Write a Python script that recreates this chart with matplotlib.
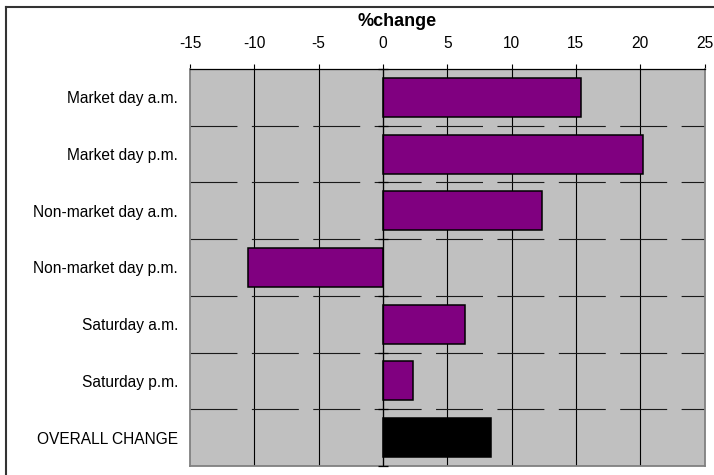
import matplotlib
matplotlib.use("Agg")
import matplotlib.pyplot as plt
from matplotlib.lines import Line2D

plt.rcParams['font.family'] = ['Liberation Sans', 'DejaVu Sans']
plt.rcParams['lines.scale_dashes'] = False

# Data
categories = ["Market day a.m.", "Market day p.m.", "Non-market day a.m.",
              "Non-market day p.m.", "Saturday a.m.", "Saturday p.m.",
              "OVERALL CHANGE"]
pct_change = [15.4, 20.2, 12.4, -10.5, 6.4, 2.3, 8.4]
bar_colors = ["#800080"] * 6 + ["#000000"]
x_ticks = [-15, -10, -5, 0, 5, 10, 15, 20, 25]

W, H = 714, 475
fig = plt.figure(figsize=(W / 100, H / 100), dpi=100)
fig.patch.set_facecolor("white")

left, right, top, bottom = 190, 704.5, 69, 466
ax = fig.add_axes([left / W, 1 - bottom / H, (right - left) / W, (bottom - top) / H])
ax.set_facecolor("#C0C0C0")

n = len(categories)
ypos = list(range(n))
ax.set_xlim(x_ticks[0], x_ticks[-1])
ax.set_ylim(n - 0.5, -0.5)

# vertical gridlines
for xv in x_ticks[1:-1]:
    ax.axvline(xv, color="black", lw=0.8, zorder=1)

# dashed separators between categories
for k in range(1, n):
    ax.axhline(k - 0.5, color="#1a1a1a", lw=0.8, zorder=1,
               linestyle=(0, (33.8, 10.4)))

# bars
ax.barh(ypos, pct_change, height=0.69, color=bar_colors,
        edgecolor="black", linewidth=1.1, zorder=3)

# category axis at zero with crossing tick marks
ax.axvline(0, color="black", lw=0.9, zorder=4)
ax.plot([0] * (n + 1), [k - 0.5 for k in range(n + 1)], linestyle="none",
        marker="_", markersize=7, markeredgewidth=0.9, color="black",
        clip_on=False, zorder=5)

# x axis on top
ax.xaxis.tick_top()
ax.set_xticks(x_ticks)
ax.set_xticklabels([str(v) for v in x_ticks])
ax.tick_params(axis="x", direction="out", length=3.6, width=0.8,
               colors="black", labelsize=11.2, pad=9.4)

ax.set_yticks(ypos)
ax.set_yticklabels(categories)
ax.tick_params(axis="y", length=0, labelsize=11.2, pad=8.5)

for side in ("left", "right", "bottom"):
    ax.spines[side].set_color("#808080")
    ax.spines[side].set_linewidth(1.3)
ax.spines["top"].set_color("black")
ax.spines["top"].set_linewidth(0.9)

fig.text(397.5 / W, 1 - 22 / H, "%change", ha="center", va="center",
         fontsize=13, fontweight="bold")

# outer frame (top and left edges)
fig.add_artist(Line2D([6 / W, 1.0], [1 - 7 / H, 1 - 7 / H],
                      transform=fig.transFigure, color="#333333", lw=1.5))
fig.add_artist(Line2D([6 / W, 6 / W], [0.0, 1 - 7 / H],
                      transform=fig.transFigure, color="#333333", lw=1.5))

fig.savefig("out.png", dpi=100)
